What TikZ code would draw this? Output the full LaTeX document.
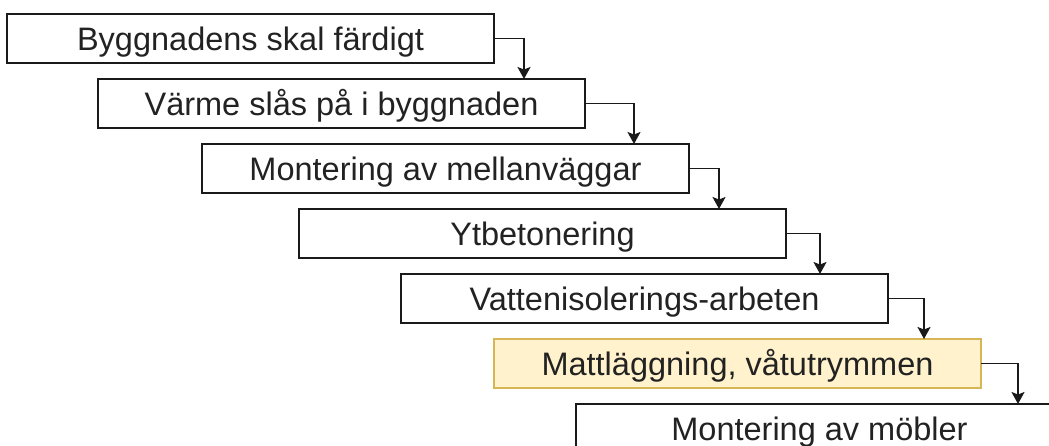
\documentclass[tikz,border=0pt]{standalone}
\usepackage{fontspec}
\setmainfont{Liberation Sans}
\usetikzlibrary{arrows.meta}
\definecolor{linegray}{HTML}{1A1A1A}
\definecolor{textgray}{HTML}{222222}
\definecolor{notefill}{HTML}{FFF2CC}
\definecolor{notedraw}{HTML}{D6B656}
\tikzset{
  stepbox/.style={draw=linegray, line width=1.6pt, fill=white, anchor=north west,
    minimum width=487pt, minimum height=49pt, inner sep=0pt, outer sep=0pt,
    text height=23.3pt, text depth=0pt,
    text=textgray, font=\fontsize{32.5}{38}\selectfont},
  hilite/.style={stepbox, draw=notedraw, fill=notefill},
  flow/.style={draw=linegray, line width=1.6pt,
    -{Stealth[length=12pt, width=13pt, inset=2.5pt]}}
}
\begin{document}
\begin{tikzpicture}[x=1pt, y=-1pt]
  \useasboundingbox (0,0) rectangle (1049,445);
  \clip (0,0) rectangle (1049,445);
  \fill[white] (0,0) rectangle (1049,445);

  % process steps, each shifted right and down
  \node[stepbox] (b1) at (7,14)   {Byggnadens skal färdigt};
  \node[stepbox] (b2) at (98,79)  {Värme slås på i byggnaden};
  \node[stepbox] (b3) at (202,144) {Montering av mellanväggar};
  \node[stepbox] (b4) at (299,209) {Ytbetonering};
  \node[stepbox] (b5) at (401,274) {Vattenisolerings-arbeten};
  \node[hilite]  (b6) at (494,339) {Mattläggning, våtutrymmen};
  \node[stepbox] (b7) at (576,404) {Montering av möbler};

  % elbow connectors from each step to the next
  \draw[flow] (b1.east) -| ([xshift=426pt]b2.north west);
  \draw[flow] (b2.east) -| ([xshift=432pt]b3.north west);
  \draw[flow] (b3.east) -| ([xshift=420pt]b4.north west);
  \draw[flow] (b4.east) -| ([xshift=419pt]b5.north west);
  \draw[flow] (b5.east) -| ([xshift=430pt]b6.north west);
  \draw[flow] (b6.east) -| ([xshift=442pt]b7.north west);
\end{tikzpicture}
\end{document}
